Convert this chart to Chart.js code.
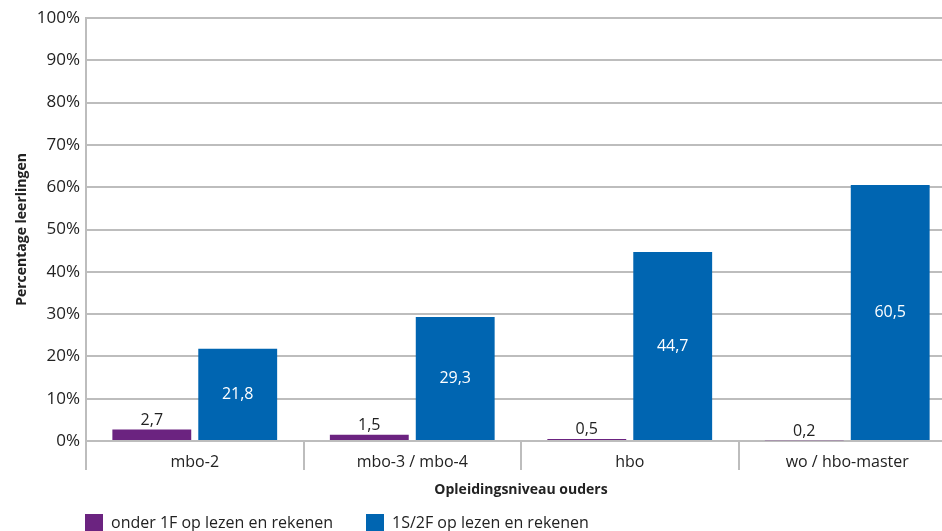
<!DOCTYPE html>
<html>
<head>
<meta charset="utf-8">
<script src="https://cdn.jsdelivr.net/npm/chart.js@4"></script>
<style>
  html, body { margin: 0; padding: 0; overflow: hidden; background: #fff; }
  #wrap { width: 956px; height: 565px; }
</style>
</head>
<body>
<div id="wrap"><canvas id="chart"></canvas></div>
<script>
// data
const categories = ['mbo-2', 'mbo-3 / mbo-4', 'hbo', 'wo / hbo-master'];
const onder1F = [2.7, 1.5, 0.5, 0.2];
const niveau1S2F = [21.8, 29.3, 44.7, 60.5];
const yTicks = [0, 10, 20, 30, 40, 50, 60, 70, 80, 90, 100];

const FONT = '"Open Sans", sans-serif';
const TEXT = '#222';
const GRID = '#bdbdbd';
const LEGEND_GAP = 33;

function nl(v) {
  return v.toFixed(1).replace('.', ',');
}

// draws the value on each bar
const valueLabels = {
  id: 'valueLabels',
  afterDatasetsDraw(chart) {
    const ctx = chart.ctx;
    ctx.save();
    ctx.font = '16px ' + FONT;
    ctx.textAlign = 'center';
    chart.data.datasets.forEach(function (ds, i) {
      const meta = chart.getDatasetMeta(i);
      meta.data.forEach(function (bar, j) {
        const txt = nl(ds.data[j]);
        if (i === 0) {
          ctx.fillStyle = TEXT;
          ctx.textBaseline = 'bottom';
          ctx.fillText(txt, bar.x, bar.y - 1);
        } else {
          ctx.fillStyle = '#fff';
          ctx.textBaseline = 'middle';
          ctx.fillText(txt, bar.x, (bar.y + bar.base) / 2);
        }
      });
    });
    ctx.restore();
  }
};

// legend starts under the plot's left edge, like the original
const legendShift = {
  id: 'legendShift',
  beforeDraw(chart) {
    const lg = chart.legend;
    lg.left = chart.chartArea.left - 1 - LEGEND_GAP;
    lg.top = lg.top - (LEGEND_GAP - 10);
  }
};

new Chart(document.getElementById('chart'), {
  type: 'bar',
  data: {
    labels: categories,
    datasets: [
      {
        label: 'onder 1F op lezen en rekenen',
        data: onder1F,
        backgroundColor: '#6b2380'
      },
      {
        label: '1S/2F op lezen en rekenen',
        data: niveau1S2F,
        backgroundColor: '#0065b1'
      }
    ]
  },
  options: {
    responsive: true,
    maintainAspectRatio: false,
    animation: false,
    categoryPercentage: 0.79,
    barPercentage: 0.918,
    layout: { padding: { top: 18, left: 14, right: 0, bottom: 0 } },
    plugins: {
      tooltip: { enabled: false },
      legend: {
        position: 'bottom',
        align: 'start',
        labels: {
          font: { family: FONT, size: 16 },
          color: TEXT,
          boxWidth: 18,
          boxHeight: 18,
          padding: LEGEND_GAP
        }
      }
    },
    scales: {
      x: {
        offset: true,
        grid: {
          offset: true,
          drawOnChartArea: false,
          drawTicks: true,
          tickLength: 29,
          color: GRID,
          lineWidth: 2
        },
        border: { color: GRID, width: 2 },
        ticks: {
          font: { family: FONT, size: 16 },
          color: TEXT,
          padding: -17
        },
        title: {
          display: true,
          text: 'Opleidingsniveau ouders',
          font: { family: FONT, size: 14, weight: 'bold' },
          color: TEXT,
          padding: { top: 26, bottom: 6 }
        }
      },
      y: {
        min: 0,
        max: 100,
        afterBuildTicks: function (axis) {
          axis.ticks = yTicks.map(function (v) { return { value: v }; });
        },
        grid: {
          color: GRID,
          lineWidth: 2,
          drawTicks: false
        },
        border: { color: GRID, width: 2 },
        ticks: {
          font: { family: FONT, size: 17 },
          color: TEXT,
          padding: 6,
          callback: function (v) { return v + '%'; }
        },
        title: {
          display: true,
          text: 'Percentage leerlingen',
          font: { family: FONT, size: 14, weight: 'bold' },
          color: TEXT,
          padding: { top: 0, bottom: 0 }
        }
      }
    }
  },
  plugins: [valueLabels, legendShift]
});
</script>
</body>
</html>
